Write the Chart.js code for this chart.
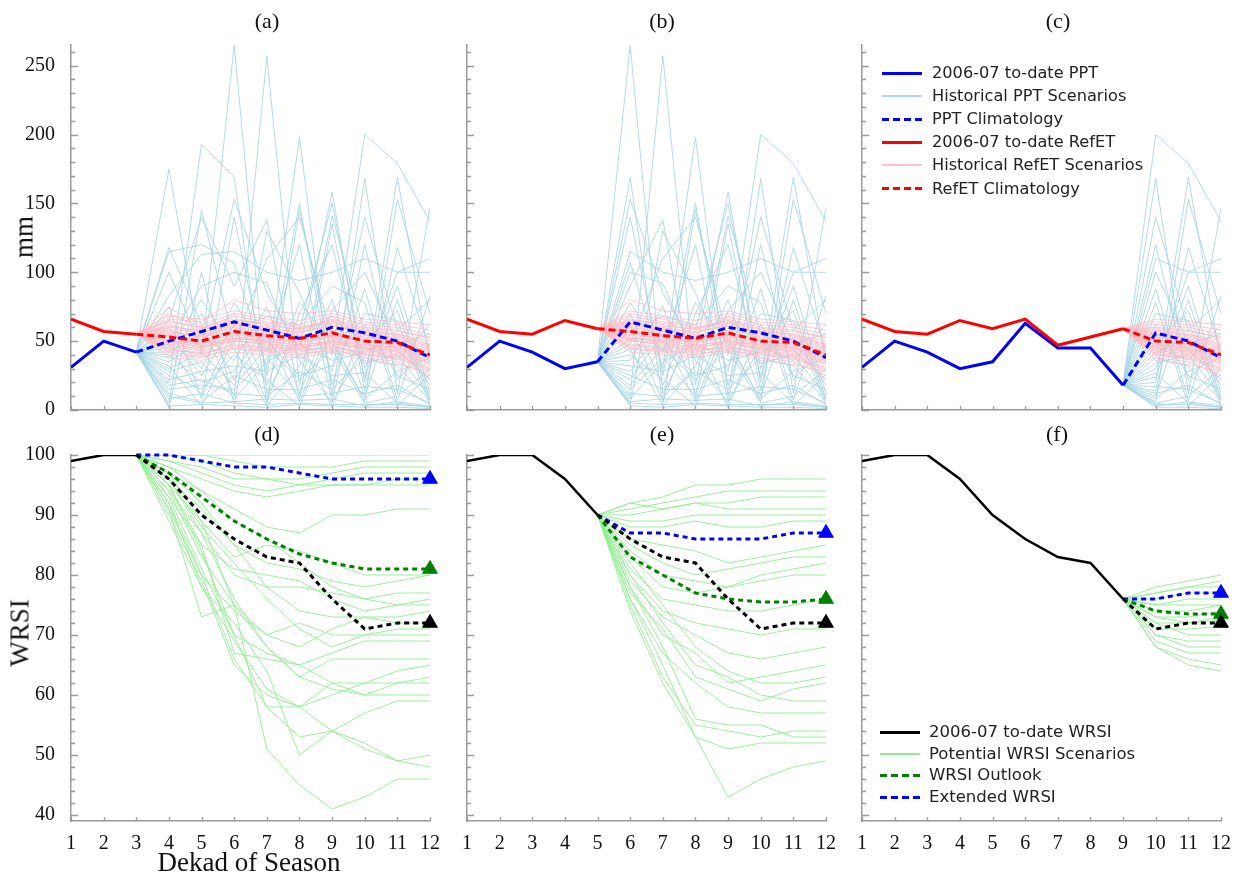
<!DOCTYPE html>
<html>
<head>
<meta charset="utf-8">
<script src="https://cdn.jsdelivr.net/npm/chart.js@4.4.1/dist/chart.umd.min.js"></script>
<style>
  body { margin: 0; background: #fff; }
  #page { position: relative; width: 1239px; height: 878px; overflow: hidden; font-family: 'Liberation Serif', 'Times New Roman', serif; }
  canvas { position: absolute; left: 0; top: 0; }
  .lbl { position: absolute; transform: translate(-50%, -50%); white-space: nowrap; color: #111; line-height: 1; }
  .rot { transform: translate(-50%, -50%) rotate(-90deg); }
  .leg { position: absolute; font-family: 'DejaVu Sans', sans-serif; color: #222; white-space: nowrap; }
  .leg .row { position: absolute; left: 0; height: 20px; }
  .leg .smp { position: absolute; left: 0; width: 40px; }
  .leg .txt { position: absolute; line-height: 1; transform: translateY(-50%); }
</style>
</head>
<body>
<div id="page"></div>
<script>
// ---- data ----
const xTicks = [1, 2, 3, 4, 5, 6, 7, 8, 9, 10, 11, 12];
const yTicksTop = [0, 50, 100, 150, 200, 250];
const yTicksBottom = [40, 50, 60, 70, 80, 90, 100];

// observed 2006-07, dekads 1-9
const pptObs = [31, 50, 42, 30, 35, 63, 45, 45, 18];
const refetObs = [66, 57, 55, 65, 59, 66, 47, 53, 59];
// climatology, dekads 4-12
const pptClim = [50, 57, 64, 58, 52, 60, 56, 50, 38];
const refetClim = [53, 50, 57, 54, 52, 56, 50, 49, 40];

// historical years, dekads 4-12
const pptHist = [
  [175, 40, 265, 12, 58, 150, 30, 100, 110],
  [20, 193, 169, 5, 145, 40, 200, 179, 137],
  [118, 62, 10, 257, 18, 141, 55, 44, 22],
  [115, 120, 107, 30, 198, 10, 168, 12, 147],
  [100, 45, 153, 85, 44, 158, 20, 169, 34],
  [5, 145, 48, 110, 140, 52, 6, 153, 70],
  [83, 113, 115, 100, 94, 100, 110, 100, 100],
  [75, 8, 140, 25, 150, 18, 88, 7, 83],
  [65, 140, 90, 138, 8, 135, 14, 118, 42],
  [2, 100, 4, 130, 85, 28, 140, 58, 80],
  [60, 30, 78, 42, 120, 6, 46, 36, 62],
  [55, 25, 62, 6, 70, 120, 24, 90, 12],
  [50, 90, 100, 92, 36, 5, 120, 22, 48],
  [48, 10, 58, 68, 62, 90, 78, 3, 26],
  [45, 80, 44, 3, 32, 80, 10, 80, 8],
  [42, 55, 36, 75, 12, 72, 100, 48, 55],
  [40, 20, 28, 60, 52, 2, 62, 25, 15],
  [38, 70, 22, 55, 6, 65, 50, 72, 6],
  [35, 50, 70, 18, 78, 48, 8, 28, 38],
  [32, 3, 52, 50, 25, 32, 70, 65, 3],
  [30, 42, 18, 45, 22, 44, 5, 10, 30],
  [28, 35, 8, 35, 48, 36, 42, 52, 18],
  [25, 15, 40, 22, 3, 58, 34, 40, 10],
  [22, 28, 32, 28, 40, 25, 27, 5, 2],
  [18, 22, 12, 10, 28, 15, 38, 32, 7],
  [12, 6, 25, 15, 15, 22, 12, 18, 4],
  [15, 18, 15, 38, 10, 12, 17, 15, 5],
  [10, 5, 6, 8, 7, 8, 3, 6, 3],
  [8, 12, 5, 4, 5, 4, 4, 4, 2],
  [3, 4, 3, 2, 4, 3, 2, 2, 1]
];
const refetHist = [
  [74, 62, 70, 66, 60, 64, 58, 55, 48],
  [48, 44, 52, 50, 47, 50, 44, 42, 35],
  [60, 58, 64, 60, 56, 62, 55, 52, 45],
  [52, 48, 55, 52, 50, 54, 48, 45, 38],
  [45, 40, 48, 46, 44, 46, 40, 38, 30],
  [66, 64, 80, 72, 70, 72, 66, 64, 62],
  [55, 50, 58, 55, 52, 57, 50, 48, 40],
  [40, 38, 45, 42, 40, 44, 38, 35, 25],
  [62, 55, 60, 57, 54, 58, 54, 53, 46],
  [50, 46, 50, 48, 46, 48, 45, 43, 36],
  [58, 52, 62, 58, 55, 68, 52, 50, 42],
  [47, 45, 54, 53, 50, 55, 49, 47, 41],
  [70, 60, 66, 62, 58, 66, 60, 58, 52],
  [43, 42, 47, 45, 43, 45, 42, 40, 33],
  [56, 54, 59, 56, 53, 56, 51, 49, 43],
  [38, 36, 42, 40, 38, 42, 36, 33, 28],
  [64, 60, 68, 64, 62, 68, 62, 60, 55],
  [53, 49, 56, 54, 51, 53, 47, 46, 39],
  [46, 43, 50, 49, 45, 49, 43, 41, 34],
  [59, 56, 63, 59, 57, 61, 57, 55, 50],
  [51, 47, 53, 51, 49, 52, 46, 44, 37],
  [44, 41, 46, 44, 42, 47, 41, 39, 31],
  [68, 66, 72, 68, 65, 70, 64, 62, 58],
  [57, 53, 57, 55, 52, 55, 53, 51, 44],
  [49, 46, 51, 47, 44, 51, 45, 43, 22],
  [61, 57, 61, 61, 59, 63, 56, 54, 47],
  [42, 39, 44, 43, 41, 43, 40, 37, 29],
  [54, 51, 57, 52, 48, 54, 50, 47, 40],
  [65, 59, 65, 63, 60, 65, 59, 57, 53],
  [50, 48, 52, 50, 47, 50, 47, 45, 38]
];

// WRSI, actual over the whole season, dekads 1-12
const wrsiActual = [99, 100, 100, 96, 90, 86, 83, 82, 76, 71, 72, 72];

// panel d: forecasts from dekad 3, values dekads 4-12
const outlookD = [97, 93, 89, 86, 83.5, 82, 81, 81, 81];
const extendedD = [100, 99, 98, 98, 97, 96, 96, 96, 96];
const scenD = [
  [100, 100, 100, 100, 100, 100, 100, 100, 100],
  [100, 100, 99, 98, 98, 98, 99, 99, 99],
  [100, 99, 97, 96, 96, 97, 98, 98, 98],
  [99, 97, 95, 94, 95, 96, 97, 97, 97],
  [98, 96, 94, 93, 94, 95, 95, 96, 96],
  [99, 98, 96, 96, 95, 95, 95, 95, 95],
  [97, 94, 91, 88, 87, 90, 90, 91, 91],
  [96, 91, 85, 82, 81, 79, 78, 79, 80],
  [95, 89, 83, 85, 84, 82, 80, 80, 80],
  [94, 87, 80, 78, 78, 77, 76, 77, 77],
  [93, 85, 81, 80, 79, 76, 74, 75, 76],
  [98, 94, 89, 86, 82, 78, 76, 75, 75],
  [97, 92, 85, 78, 74, 73, 73, 73, 74],
  [92, 80, 74, 70, 68, 71, 73, 72, 72],
  [96, 88, 82, 76, 71, 68, 70, 71, 71],
  [91, 73, 75, 70, 72, 70, 70, 70, 70],
  [95, 85, 67, 66, 65, 67, 69, 69, 69],
  [94, 83, 75, 68, 63, 66, 66, 66, 66],
  [90, 79, 65, 60, 58, 62, 62, 64, 65],
  [93, 81, 70, 67, 65, 62, 60, 62, 63],
  [92, 78, 69, 61, 58, 60, 62, 62, 62],
  [96, 87, 76, 68, 63, 61, 60, 60, 60],
  [89, 78, 72, 64, 50, 54, 57, 59, 59],
  [91, 80, 66, 58, 53, 54, 51, 49, 50],
  [95, 84, 70, 58, 58, 54, 52, 49, 48],
  [97, 89, 75, 51, 45, 41, 43, 46, 46]
];

// panel e: forecasts from dekad 5, values dekads 6-12
const outlookE = [83, 80, 77, 76, 75.5, 75.5, 76];
const extendedE = [87, 87, 86, 86, 86, 87, 87];
const scenE = [
  [92, 93, 95, 95, 96, 96, 96],
  [91, 92, 93, 94, 94, 94, 94],
  [90, 91, 92, 92, 93, 93, 93],
  [92, 91, 92, 91, 91, 91, 91],
  [89, 89, 90, 90, 90, 90, 90],
  [88, 88, 89, 88, 88, 89, 89],
  [86, 85, 84, 82, 83, 84, 85],
  [85, 82, 80, 81, 82, 83, 83],
  [84, 80, 79, 78, 80, 81, 82],
  [83, 78, 77, 78, 79, 80, 80],
  [81, 76, 75, 74, 74, 75, 76],
  [80, 74, 72, 71, 70, 71, 71],
  [79, 73, 70, 67, 66, 67, 68],
  [78, 70, 67, 62, 63, 64, 65],
  [82, 75, 68, 64, 62, 62, 63],
  [77, 71, 63, 61, 59, 61, 62],
  [80, 72, 65, 63, 60, 59, 59],
  [76, 67, 62, 58, 57, 57, 57],
  [75, 63, 55, 54, 53, 54, 54],
  [78, 68, 56, 55, 55, 53, 53],
  [74, 62, 53, 51, 52, 52, 52],
  [76, 65, 53, 43, 46, 48, 49]
];

// panel f: forecasts from dekad 9, values dekads 10-12
const outlookF = [74, 73.5, 73.5];
const extendedF = [76, 77, 77];
const scenF = [
  [78, 79, 80], [77, 78, 79], [77, 78, 78], [76, 77, 77], [75, 76, 76],
  [75, 75, 75], [74, 74, 75], [73, 73, 74], [73, 72, 73], [72, 72, 72.5],
  [71, 71, 71.4], [72, 70, 70], [70, 69, 69], [70, 68, 68], [69, 67, 67],
  [68, 66, 65], [68, 65, 64]
];

const topLegend = [
  ['2006-07 to-date PPT', '#0000ff', 3, false],
  ['Historical PPT Scenarios', '#add8e6', 2, false],
  ['PPT Climatology', '#0000ff', 3, true],
  ['2006-07 to-date RefET', '#ff0000', 3, false],
  ['Historical RefET Scenarios', '#ffc0cb', 2, false],
  ['RefET Climatology', '#ff0000', 3, true]
];
const bottomLegend = [
  ['2006-07 to-date WRSI', '#000000', 3, false],
  ['Potential WRSI Scenarios', '#90ee90', 2, false],
  ['WRSI Outlook', '#008000', 3, true],
  ['Extended WRSI', '#0000ff', 3, true]
];

// ---- helpers ----
const page = document.getElementById('page');
const AXIS = '#9a9a9a';

function pts(start, vals) {
  return vals.map((v, i) => ({ x: start + i, y: v }));
}

function lineSet(data, color, width, dash, extra) {
  return Object.assign({
    data: data, borderColor: color, borderWidth: width, borderDash: dash || [],
    pointRadius: 0, tension: 0, fill: false
  }, extra || {});
}

function withTriangle(data, color) {
  return {
    pointStyle: 'triangle',
    pointRadius: ctx => (ctx.dataIndex === data.length - 1 ? 8.5 : 0),
    pointBackgroundColor: color, pointBorderColor: color, pointBorderWidth: 1,
    clip: false
  };
}

function topSets(c) {
  const sets = [];
  const pLast = pptObs[c - 1], rLast = refetObs[c - 1];
  sets.push(lineSet(pts(1, refetObs.slice(0, c)), '#ff0000', 3));
  sets.push(lineSet(pts(1, pptObs.slice(0, c)), '#0000ff', 3));
  sets.push(lineSet(pts(c, [rLast].concat(refetClim.slice(c - 3))), '#ff0000', 3, [7, 4]));
  sets.push(lineSet(pts(c, [pLast].concat(pptClim.slice(c - 3))), '#0000ff', 3, [7, 4]));
  refetHist.forEach(r => sets.push(lineSet(pts(c, [rLast].concat(r.slice(c - 3))), 'rgba(255,182,193,0.75)', 1)));
  pptHist.forEach(r => sets.push(lineSet(pts(c, [pLast].concat(r.slice(c - 3))), 'rgba(160,210,225,0.8)', 1)));
  return sets;
}

function bottomSets(c, outlook, extended, scen) {
  const sets = [];
  const last = wrsiActual[c - 1];
  const act = pts(c, wrsiActual.slice(c - 1));
  const out = pts(c, [last].concat(outlook));
  const ext = pts(c, [last].concat(extended));
  sets.push(lineSet(pts(1, wrsiActual.slice(0, c)), '#000000', 2.5));
  sets.push(lineSet(act, '#000000', 3, [5, 4], withTriangle(act, '#000000')));
  sets.push(lineSet(out, '#008000', 3, [5, 4], withTriangle(out, '#008000')));
  sets.push(lineSet(ext, '#0000ff', 3, [5, 4], withTriangle(ext, '#0000ff')));
  scen.forEach(s => sets.push(lineSet(pts(c, [last].concat(s)), 'rgba(144,238,144,0.9)', 1)));
  return sets;
}

// inward ticks drawn from the chart's own scales
const axisTicks = {
  id: 'axisTicks',
  afterDatasetsDraw(chart, args, o) {
    const { ctx, scales: { x, y } } = chart;
    ctx.save();
    ctx.strokeStyle = AXIS;
    ctx.lineWidth = 1.3;
    ctx.beginPath();
    const start = Math.ceil(y.min / o.minor) * o.minor;
    for (let v = start; v <= y.max + 1e-9; v += o.minor) {
      const py = Math.round(y.getPixelForValue(v)) + 0.5;
      const major = Math.abs(v / o.major - Math.round(v / o.major)) < 1e-6;
      ctx.moveTo(x.left, py);
      ctx.lineTo(x.left + (major ? 7 : 4), py);
    }
    xTicks.forEach(v => {
      const px = Math.round(x.getPixelForValue(v)) + 0.5;
      ctx.moveTo(px, y.bottom);
      ctx.lineTo(px, y.bottom - 4);
    });
    ctx.stroke();
    ctx.restore();
  }
};

function makePanel(p) {
  const cv = document.createElement('canvas');
  cv.width = 1239; cv.height = 878;
  page.appendChild(cv);
  const yW = p.showY ? 71 : 0;
  const xH = p.showX ? 30 : 0;
  const tickFont = { family: "'Liberation Serif', 'Times New Roman', serif", size: 20 };
  new Chart(cv, {
    type: 'line',
    data: { datasets: p.sets },
    options: {
      responsive: false, animation: false, events: [],
      layout: { padding: { left: p.left - yW, right: 1239 - p.right, top: p.top, bottom: 878 - p.bottom - xH } },
      plugins: {
        legend: { display: false }, tooltip: { enabled: false }, title: { display: false },
        axisTicks: { major: p.major, minor: p.minor }
      },
      scales: {
        x: {
          type: 'linear', min: 1, max: 12,
          afterBuildTicks: s => { s.ticks = xTicks.map(v => ({ value: v })); },
          afterFit: s => { s.height = xH; },
          grid: { display: false },
          border: { color: AXIS, width: 1.5 },
          ticks: { display: p.showX, padding: 3, font: tickFont, color: '#111', maxRotation: 0, autoSkip: false }
        },
        y: {
          type: 'linear', min: p.ymin, max: p.ymax,
          afterBuildTicks: s => { s.ticks = p.yTicks.map(v => ({ value: v })); },
          afterFit: s => { s.width = yW; },
          grid: { display: false },
          border: { color: AXIS, width: 1.5 },
          ticks: { display: p.showY, padding: 8, font: tickFont, color: '#111' }
        }
      }
    },
    plugins: [axisTicks]
  });
}

const cols = [[71, 430], [467, 826], [862, 1221]];
const topCur = [3, 5, 9];
topCur.forEach((c, i) => makePanel({
  left: cols[i][0], right: cols[i][1], top: 45, bottom: 410,
  ymin: 0, ymax: 265, yTicks: yTicksTop, major: 50, minor: 10,
  showY: i === 0, showX: false, sets: topSets(c)
}));
const bottomData = [[3, outlookD, extendedD, scenD], [5, outlookE, extendedE, scenE], [9, outlookF, extendedF, scenF]];
bottomData.forEach((b, i) => makePanel({
  left: cols[i][0], right: cols[i][1], top: 455, bottom: 821,
  ymin: 39, ymax: 100, yTicks: yTicksBottom, major: 10, minor: 2,
  showY: i === 0, showX: true, sets: bottomSets(b[0], b[1], b[2], b[3])
}));

// ---- text ----
function label(text, x, y, size, rot) {
  const d = document.createElement('div');
  d.className = 'lbl' + (rot ? ' rot' : '');
  d.style.left = x + 'px'; d.style.top = y + 'px'; d.style.fontSize = size + 'px';
  d.textContent = text;
  page.appendChild(d);
}
[['(a)', 267, 21], ['(b)', 662, 21], ['(c)', 1058, 21], ['(d)', 267, 434], ['(e)', 662, 434], ['(f)', 1057, 434]]
  .forEach(t => label(t[0], t[1], t[2], 22));
label('mm', 24, 237, 27, true);
label('WRSI', 20, 633, 27, true);
label('Dekad of Season', 249, 862, 27);

function legend(items, x, y, step, textX, size) {
  const box = document.createElement('div');
  box.className = 'leg';
  box.style.left = x + 'px'; box.style.top = y + 'px';
  box.style.fontSize = size + 'px';
  items.forEach((it, i) => {
    const row = document.createElement('div');
    row.className = 'row';
    row.style.top = (i * step) + 'px';
    const smp = document.createElement('div');
    smp.className = 'smp';
    smp.style.height = it[2] + 'px';
    smp.style.top = (-it[2] / 2) + 'px';
    smp.style.background = it[3]
      ? 'repeating-linear-gradient(90deg,' + it[1] + ' 0 7px, transparent 7px 11px)'
      : it[1];
    const txt = document.createElement('div');
    txt.className = 'txt';
    txt.style.left = textX + 'px';
    txt.textContent = it[0];
    row.appendChild(smp); row.appendChild(txt);
    box.appendChild(row);
  });
  page.appendChild(box);
}
legend(topLegend, 882, 73, 23.1, 50, 16.2);
legend(bottomLegend, 880, 732, 21.7, 49, 16.5);
</script>
</body>
</html>
